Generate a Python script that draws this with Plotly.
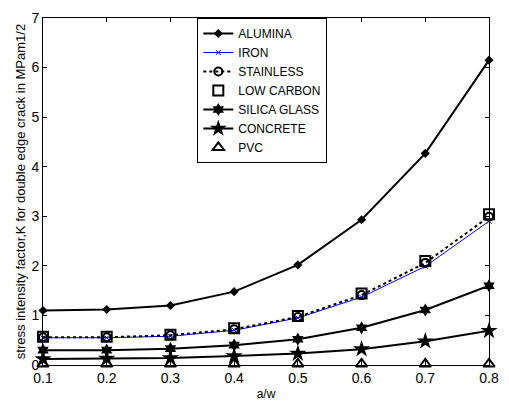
import plotly.graph_objects as go

aw = [0.1, 0.2, 0.3, 0.4, 0.5, 0.6, 0.7, 0.8]
alumina = [1.10, 1.12, 1.20, 1.48, 2.02, 2.93, 4.27, 6.15]
iron = [0.55, 0.55, 0.58, 0.70, 0.95, 1.37, 1.99, 2.90]
stainless = [0.56, 0.56, 0.60, 0.72, 0.97, 1.41, 2.06, 2.99]
low_carbon = [0.57, 0.57, 0.61, 0.74, 0.99, 1.44, 2.10, 3.04]
silica = [0.30, 0.30, 0.33, 0.40, 0.52, 0.75, 1.11, 1.60]
concrete = [0.12, 0.13, 0.14, 0.18, 0.23, 0.32, 0.48, 0.69]
pvc = [0.02, 0.02, 0.02, 0.02, 0.02, 0.02, 0.02, 0.02]

fig = go.Figure()
fig.add_trace(go.Scatter(x=aw, y=alumina, name="ALUMINA", mode="lines+markers",
                         line=dict(color="black", width=2),
                         marker=dict(symbol="diamond", size=7, color="black")))
fig.add_trace(go.Scatter(x=aw, y=iron, name="IRON", mode="lines+markers",
                         line=dict(color="#0000ff", width=1),
                         marker=dict(symbol="x-thin-open", size=5, color="#0000ff",
                                     line=dict(color="#0000ff", width=1))))
fig.add_trace(go.Scatter(x=aw, y=stainless, name="STAINLESS", mode="lines+markers",
                         line=dict(color="black", width=2, dash="dot"),
                         marker=dict(symbol="circle-open", size=8, color="black",
                                     line=dict(color="black", width=2))))
fig.add_trace(go.Scatter(x=aw, y=low_carbon, name="LOW CARBON", mode="markers",
                         marker=dict(symbol="square-open", size=10, color="black",
                                     line=dict(color="black", width=2))))
fig.add_trace(go.Scatter(x=aw, y=silica, name="SILICA GLASS", mode="lines+markers",
                         line=dict(color="black", width=2),
                         marker=dict(symbol="hexagram", size=10, color="black")))
fig.add_trace(go.Scatter(x=aw, y=concrete, name="CONCRETE", mode="lines+markers",
                         line=dict(color="black", width=2),
                         marker=dict(symbol="star", size=13, color="black")))
fig.add_trace(go.Scatter(x=aw, y=pvc, name="PVC", mode="markers",
                         marker=dict(symbol="triangle-up-open", size=10, color="black",
                                     line=dict(color="black", width=2))))

axis_common = dict(showline=True, linecolor="black", linewidth=1, mirror="ticks",
                   ticks="inside", ticklen=4, tickcolor="black", showgrid=False,
                   zeroline=False, tickfont=dict(family="Arial", size=14, color="black"))

fig.update_layout(
    width=509, height=408,
    margin=dict(l=43, r=10, t=10, b=40),
    plot_bgcolor="white", paper_bgcolor="white",
    font=dict(family="Arial", color="black"),
    showlegend=True,
    legend=dict(x=0.346, y=1, xanchor="left", yanchor="top",
                bordercolor="black", borderwidth=1, bgcolor="white",
                font=dict(family="Arial", size=12, color="black"),
                tracegroupgap=0, itemwidth=30),
    xaxis=dict(range=[0.1, 0.8], tickvals=[0.1, 0.2, 0.3, 0.4, 0.5, 0.6, 0.7, 0.8],
               ticktext=["0.1", "0.2", "0.3", "0.4", "0.5", "0.6", "0.7", "0.8"],
               title=dict(text="a/w", font=dict(family="Arial", size=12), standoff=4),
               **axis_common),
    yaxis=dict(range=[0, 7], tickvals=[0, 1, 2, 3, 4, 5, 6, 7],
               title=dict(text="stress intensity factor,K for double edge crack in MPam1/2",
                          font=dict(family="Arial", size=13), standoff=2),
               **axis_common),
)
for tr in fig.data:
    tr.cliponaxis = False

fig.write_html("out.html")
